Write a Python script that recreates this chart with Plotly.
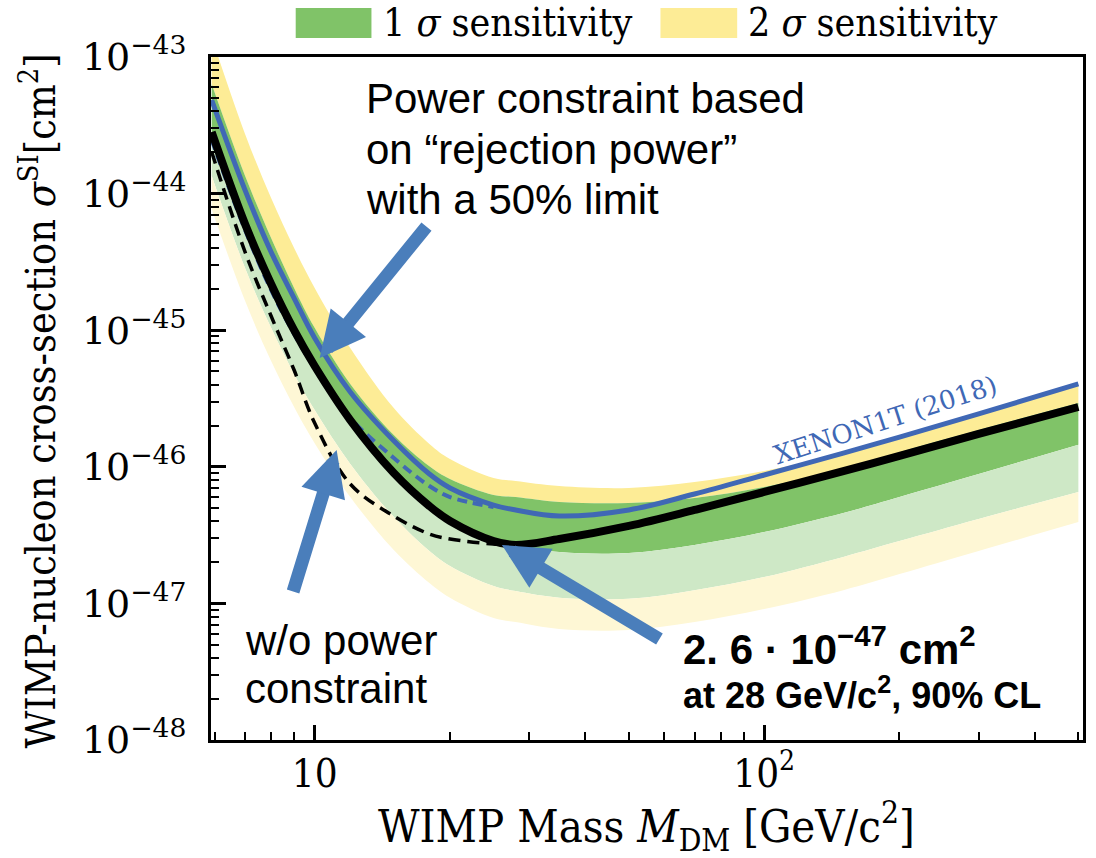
import numpy as np
import plotly.graph_objects as go

# ---------------- data ----------------
mass = [5.9, 7, 8, 9, 10, 12, 15, 18, 20, 25, 28, 35, 50, 70, 100, 150, 200, 300, 500]
sens_2s_upper = [1.40e-43, 2.73e-44, 9.29e-45, 4.00e-45, 2.04e-45, 7.41e-46, 2.69e-46, 1.47e-46, 1.14e-46,
                 8.28e-47, 7.87e-47, 7.23e-47, 7.00e-47, 7.74e-47, 9.31e-47, 1.26e-46, 1.65e-46, 2.44e-46, 3.97e-46]
sens_1s_upper = [6.34e-44, 1.35e-44, 4.73e-45, 2.04e-45, 1.04e-45, 4.04e-46, 1.71e-46, 1.01e-46, 8.14e-47,
                 6.22e-47, 6.01e-47, 5.53e-47, 5.43e-47, 5.91e-47, 7.11e-47, 9.64e-47, 1.28e-46, 1.86e-46, 2.93e-46]
sens_median = [2.82e-44, 5.99e-45, 2.18e-45, 1.00e-45, 5.47e-46, 2.20e-46, 9.01e-47, 5.16e-47, 4.01e-47,
               2.86e-47, 2.68e-47, 2.38e-47, 2.34e-47, 2.68e-47, 3.33e-47, 4.59e-47, 6.01e-47, 8.85e-47, 1.45e-46]
sens_1s_lower = [1.35e-44, 2.85e-45, 1.04e-45, 4.78e-46, 2.60e-46, 1.05e-46, 4.30e-47, 2.42e-47, 1.88e-47,
                 1.34e-47, 1.23e-47, 1.10e-47, 1.08e-47, 1.25e-47, 1.56e-47, 2.19e-47, 2.86e-47, 4.15e-47, 6.54e-47]
sens_2s_lower = [7.72e-45, 1.64e-45, 5.95e-46, 2.74e-46, 1.49e-46, 6.01e-47, 2.46e-47, 1.41e-47, 1.10e-47,
                 7.82e-48, 7.31e-48, 6.50e-48, 6.39e-48, 7.31e-48, 9.10e-48, 1.25e-47, 1.64e-47, 2.42e-47, 3.94e-47]
limit_power_constrained = [2.82e-44, 5.99e-45, 2.18e-45, 1.00e-45, 5.47e-46, 2.20e-46, 9.01e-47, 5.16e-47, 4.01e-47,
                           2.86e-47, 2.68e-47, 2.96e-47, 3.69e-47, 4.83e-47, 6.54e-47, 9.31e-47, 1.20e-46, 1.74e-46, 2.74e-46]
xenon1t_2018 = [4.84e-44, 1.06e-44, 3.74e-45, 1.72e-45, 8.77e-46, 3.53e-46, 1.55e-46, 8.85e-47, 7.00e-47,
                5.25e-47, 4.83e-47, 4.36e-47, 4.83e-47, 6.32e-47, 8.71e-47, 1.26e-46, 1.65e-46, 2.44e-46, 4.04e-46]

mass_low = [5.9, 7, 8, 9, 10, 12, 15, 18, 20, 25, 28]
limit_no_power_constraint = [2.02e-44, 3.74e-45, 1.27e-45, 5.11e-46, 2.09e-46, 7.48e-47, 4.36e-47, 3.22e-47,
                             2.96e-47, 2.72e-47, 2.68e-47]
mass_xs = [5.9, 7, 8, 9, 10, 12, 15, 18, 20, 25]
xenon1t_2018_sens = [2.47e-44, 5.42e-45, 1.97e-45, 9.38e-46, 5.28e-46, 2.28e-46, 1.16e-46, 7.23e-47, 6.01e-47, 5.08e-47]

x_ticks = [10, 100]
x_ticktext = ["10", "10<sup>2</sup>"]
x_minor = [6, 7, 8, 9, 20, 30, 40, 50, 60, 70, 80, 90, 200, 300, 400, 500]
y_exponents = [-48, -47, -46, -45, -44, -43]

# ---------------- styles ----------------
YEL = "rgb(253,236,150)"
GRN = "rgb(128,195,104)"
LGRN = "rgb(206,232,198)"
LYEL = "rgb(254,247,213)"
BLUE = "rgb(64,104,181)"
ARROW = "rgb(74,126,187)"
SERIF_C = "DejaVu Serif Condensed, Liberation Serif, serif"
SERIF = "DejaVu Serif, serif"
SANS = "Liberation Sans, Arial, sans-serif"
BOLD = "Liberation Sans, Arial, sans-serif"

fig = go.Figure()

def band(y, fillcolor=None):
    kw = dict(x=mass, y=y, mode="lines", line=dict(width=0, shape="spline"),
              hoverinfo="skip", showlegend=False)
    if fillcolor:
        kw.update(fill="tonexty", fillcolor=fillcolor)
    fig.add_trace(go.Scatter(**kw))

band(sens_2s_upper)
band(sens_1s_upper, YEL)
band(sens_median, GRN)
band(sens_1s_lower, LGRN)
band(sens_2s_lower, LYEL)

fig.add_trace(go.Scatter(x=mass_xs, y=xenon1t_2018_sens, mode="lines",
                         line=dict(color=BLUE, width=4, dash="10px,6px", shape="spline"),
                         hoverinfo="skip", showlegend=False))
fig.add_trace(go.Scatter(x=mass_low, y=limit_no_power_constraint, mode="lines",
                         line=dict(color="black", width=3.5, dash="12px,7px", shape="spline"),
                         hoverinfo="skip", showlegend=False))
fig.add_trace(go.Scatter(x=mass, y=xenon1t_2018, mode="lines",
                         line=dict(color=BLUE, width=5, shape="spline"),
                         hoverinfo="skip", showlegend=False))
fig.add_trace(go.Scatter(x=mass, y=limit_power_constrained, mode="lines",
                         line=dict(color="black", width=8, shape="spline"),
                         hoverinfo="skip", showlegend=False))

# ---------------- axes ----------------
y_minor = [m * 10.0 ** e for e in y_exponents[:-1] for m in range(2, 10)]
fig.update_xaxes(type="log", range=[np.log10(5.88), np.log10(512)],
                 tickvals=x_ticks, ticktext=x_ticktext,
                 ticks="inside", ticklen=15, tickwidth=2.5, tickcolor="black",
                 showline=True, linewidth=3, linecolor="black", mirror=True,
                 showgrid=False, zeroline=False, ticklabelstandoff=-4,
                 tickfont=dict(family=SERIF_C, size=40, color="black"),
                 minor=dict(tickvals=x_minor, ticks="inside", ticklen=8, tickwidth=2,
                            tickcolor="black", showgrid=False))
fig.update_yaxes(type="log", range=[-48, -43],
                 tickvals=[10.0 ** e for e in y_exponents],
                 ticktext=[f"10<sup>\u2212{-e}</sup>" for e in y_exponents],
                 ticks="inside", ticklen=15, tickwidth=2.5, tickcolor="black",
                 showline=True, linewidth=3, linecolor="black", mirror=True,
                 showgrid=False, zeroline=False, ticklabelstandoff=14,
                 tickfont=dict(family=SERIF, size=38, color="black"),
                 minor=dict(tickvals=y_minor, ticks="inside", ticklen=8, tickwidth=2,
                            tickcolor="black", showgrid=False))

# ---------------- text / arrows ----------------
L, W, T, H = 211, 875, 57, 683
def px(xp):
    return (xp - L) / W
def py(yp):
    return (T + H - yp) / H

ann = []
def text(s, xp, yp, size, family, color="black", xanchor="left", angle=0):
    ann.append(dict(text=s, x=px(xp), y=py(yp), xref="paper", yref="paper",
                    xanchor=xanchor, yanchor="middle", showarrow=False, textangle=angle,
                    font=dict(size=size, family=family, color=color)))

text("Power constraint based", 365, 99, 42, SANS)
text("on \u201crejection power\u201d", 365, 149, 42, SANS)
text("with a 50% limit", 365, 200, 42, SANS)
text("w/o power", 243, 640, 42, SANS)
text("constraint", 243, 688, 42, SANS)
text("<b>2. 6 \u00b7 10<sup>\u221247</sup> cm<sup>2</sup></b>", 683, 646, 42, BOLD)
text("<b>at 28 GeV/c<sup>2</sup>, 90% CL</b>", 683, 693, 36, BOLD)
text("XENON1T (2018)", 888, 420, 26, SERIF, color=BLUE, xanchor="center", angle=-18)

# axis titles
text("WIMP-nucleon cross-section <i>\u03c3</i><sup>SI</sup>[cm<sup>2</sup>]", 37, 401, 41, SERIF_C,
     xanchor="center", angle=-90)
text("WIMP Mass <i>M</i><sub>DM</sub> [GeV/c<sup>2</sup>]", 648, 826, 45, SERIF_C, xanchor="center")

# legend
text("1 <i>\u03c3</i> sensitivity", 382, 22, 39, SERIF_C)
text("2 <i>\u03c3</i> sensitivity", 748, 22, 39, SERIF_C)

shapes = [
    dict(type="rect", xref="paper", yref="paper", x0=px(296), x1=px(372), y0=py(38), y1=py(8),
         fillcolor=GRN, line=dict(width=0)),
    dict(type="rect", xref="paper", yref="paper", x0=px(662), x1=px(739), y0=py(38), y1=py(8),
         fillcolor=YEL, line=dict(width=0)),
]

# arrows (tip position in data coords, tail offset in pixels)
for tip_m, tip_s, ax, ay in [(10.26, 10 ** -45.204, 108, -133),
                             (11.19, 10 ** -45.877, -44, 143),
                             (26.1, 10 ** -46.572, 159, 95)]:
    ann.append(dict(x=np.log10(tip_m), y=np.log10(tip_s), xref="x", yref="y",
                    ax=ax, ay=ay, axref="pixel", ayref="pixel", text="",
                    showarrow=True, arrowhead=2, arrowsize=0.7, arrowwidth=13,
                    arrowcolor=ARROW, standoff=0))

fig.update_layout(width=1096, height=858, margin=dict(l=L, r=1096 - L - W, t=T, b=858 - T - H),
                  paper_bgcolor="white", plot_bgcolor="white", showlegend=False,
                  annotations=ann, shapes=shapes, hovermode=False)

fig.write_html("out.html")
